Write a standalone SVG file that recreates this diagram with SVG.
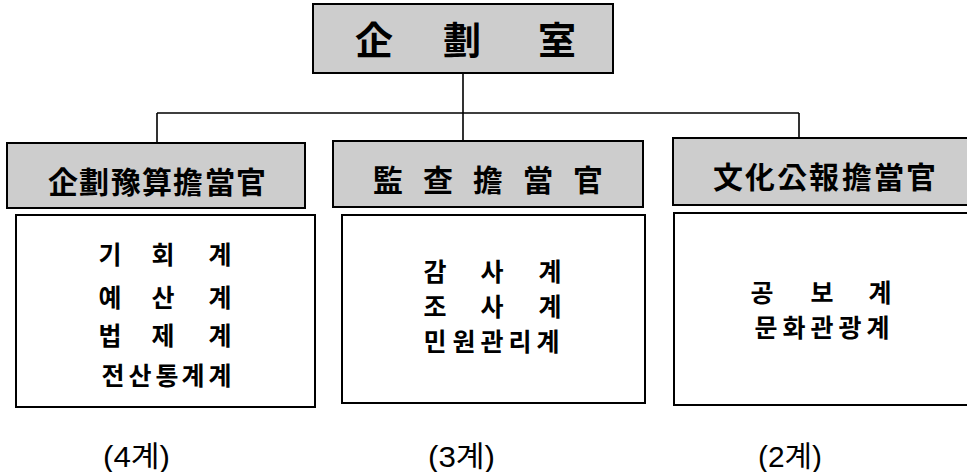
<svg xmlns="http://www.w3.org/2000/svg" width="967" height="472" viewBox="0 0 967 472">
<style>
.hdr{fill:#cdcdcd;stroke:#000;stroke-width:2}
.box{fill:#fff;stroke:#000;stroke-width:2}
.conn{fill:none;stroke:#000;stroke-width:1.6}
.hj{font-family:"Noto Sans CJK KR","Noto Sans CJK SC",sans-serif;font-weight:700;fill:#000;text-anchor:middle}
.ko{font-family:"Noto Sans CJK KR",sans-serif;font-weight:700;font-size:25px;fill:#000;text-anchor:middle}
.cnt{font-family:"Liberation Sans Narrow","Liberation Sans","Noto Sans CJK KR",sans-serif;font-size:29px;fill:#000}
</style>
<rect width="967" height="472" fill="#fff"/>
<g id="connectors">
<path class="conn" d="M463 73 V113 M157 113 H799 M157 113 V143 M463 113 V141 M799 113 V138"/>
</g>
<g id="top">
<rect class="hdr" x="313" y="4" width="300" height="69"/>
<text class="hj" font-size="38" x="374 462 557" y="54">企劃室</text>
</g>
<g id="h1">
<rect class="hdr" x="7" y="143" width="298" height="65"/>
<text class="hj" font-size="30" x="63 94 126 157 188 220 251" y="193">企劃豫算擔當官</text>
</g>
<g id="h2">
<rect class="hdr" x="333" y="141" width="310" height="66"/>
<text class="hj" font-size="30" x="388 438 488 538 588" y="191">監查擔當官</text>
</g>
<g id="h3">
<rect class="hdr" x="673" y="138" width="300" height="67"/>
<text class="hj" font-size="30" x="728 760 792 824 857 889 921" y="188">文化公報擔當官</text>
</g>
<g id="b1">
<rect class="box" x="16" y="215" width="299" height="192"/>
<text class="ko" x="110 163 220" y="264">기회계</text>
<text class="ko" x="110 163 220" y="307">예산계</text>
<text class="ko" x="110 163 220" y="345">법제계</text>
<text class="ko" x="113 140 167 193 220" y="385">전산통계계</text>
</g>
<g id="b2">
<rect class="box" x="342" y="215" width="303" height="188"/>
<text class="ko" x="435 492 550" y="281">감사계</text>
<text class="ko" x="435 492 550" y="316">조사계</text>
<text class="ko" x="435 464 492 520 548" y="351">민원관리계</text>
</g>
<g id="b3">
<rect class="box" x="674" y="213" width="300" height="192"/>
<text class="ko" x="762 822 880" y="302">공보계</text>
<text class="ko" x="766 794 822 850 878" y="337">문화관광계</text>
</g>
<g id="counts">
<text class="cnt" x="103" y="467" textLength="67" lengthAdjust="spacingAndGlyphs">(4계)</text>
<text class="cnt" x="428" y="467" textLength="67" lengthAdjust="spacingAndGlyphs">(3계)</text>
<text class="cnt" x="758" y="467" textLength="64" lengthAdjust="spacingAndGlyphs">(2계)</text>
</g>
</svg>
